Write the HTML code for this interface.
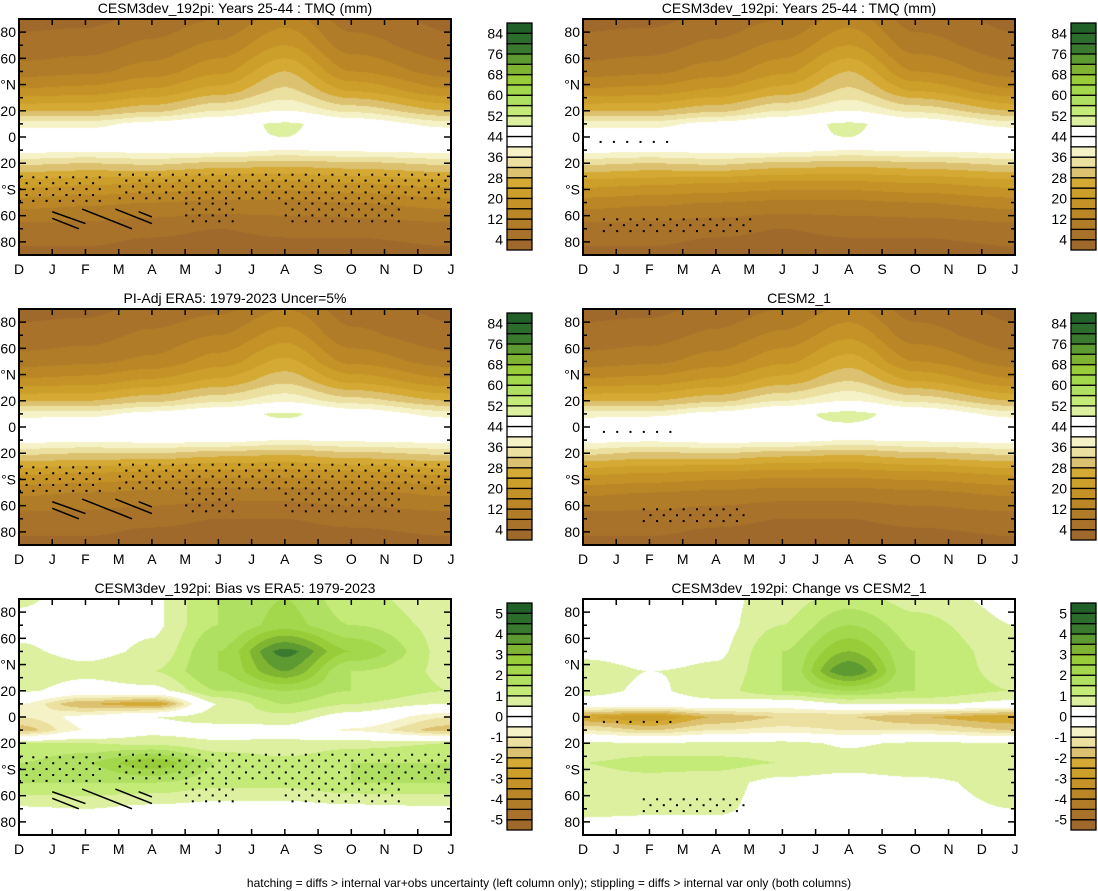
<!DOCTYPE html>
<html><head><meta charset="utf-8">
<style>
html,body{margin:0;padding:0;background:#fff;}
#wrap{position:relative;width:1098px;height:891px;overflow:hidden;font-family:"Liberation Sans",sans-serif;}
canvas{position:absolute;}
svg{position:absolute;left:0;top:0;}
</style></head>
<body>
<div id="wrap">
<svg id="ov" width="1098" height="891"></svg>
</div>
<script>
// ---- data ----
const monthLabels = ['D','J','F','M','A','M','J','J','A','S','O','N','D','J'];
const gridMonths = [0,2,4,6,8,10,13];
const gridLats = [90,70,50,35,20,10,0,-10,-20,-35,-50,-70,-90];
const tmqLevelsLabels = [84,76,68,60,52,44,36,28,20,12,4];
const diffLevelsLabels = [5,4,3,2,1,0,-1,-2,-3,-4,-5];
const tmqModel = [
 [3,3,5,8,14,6,3],[5,6,9,13,20,10,5],[10,11,14,19,28,16,10],[17,18,21,26,33,24,17],
 [28,28,31,36,40,35,28],[38,38,42,45,49,44,38],[45,44,46,47,48,45,45],[42,41,42,42,40,41,42],
 [33,32,33,31,30,31,33],[22,21,20,19,19,20,22],[14,13,12,11,11,12,14],[6,6,5,4,5,5,6],[3,3,2,2,2,2,3]];
const tmqCesm2 = [
 [3,3,5,8,13,6,3],[5,6,9,13,19,10,5],[10,11,14,19,26,16,10],[17,18,21,26,32,24,17],
 [28,28,31,36,40,35,28],[38,38,42,46,50,45,38],[45,48,48,47,47,45,45],[42,41,42,42,40,41,42],
 [33,31,32,30,29,31,33],[21,20,19,18,18,19,21],[13,12,11,10,10,11,13],[6,6,5,4,4,5,6],[3,3,2,2,2,2,3]];
const tmqEra5 = [
 [3,3,5,7,12,6,3],[5,6,9,12,18,9,5],[10,11,13,18,25,15,10],[17,18,21,25,31,23,17],
 [28,28,31,35,39,34,28],[38,38,42,45,49,44,38],[45,46,47,46,46,45,45],[42,41,42,42,40,41,42],
 [33,32,32,30,29,31,33],[21,20,19,18,18,19,21],[13,12,11,10,10,11,13],[6,6,5,4,4,5,6],[3,3,2,2,2,2,3]];
const biasVals = [
 [0.6,0.2,0.4,1.5,2,1.2,0.6],[0.3,0.2,0.4,1.5,2.2,1.5,0.8],[0.6,0.3,0.6,2,4.2,2.5,0.8],[0.9,0.7,1,2,3.5,1.5,0.9],
 [0.6,0.2,0.3,1.5,2,1.5,1],[-0.5,-2,-2.5,0.5,1.5,1,0.5],[-1,-0.3,0.5,0.8,0.8,0.2,-1],[-1.8,-0.5,0.3,0.2,0.3,-0.6,-1.8],
 [1,1,0.8,0.6,0.6,0.8,1],[1.5,2,3,1.5,1.2,1.5,1.5],[1.5,1.5,1.5,1.2,1.2,1.5,1.5],[0.4,0.5,0.3,0.2,0.2,0.3,0.4],[0,0,0,0,0,0,0]];
const changeVals = [
 [0.2,0.2,0.3,0.8,1.2,0.8,0.3],[0.2,0.2,0.3,1.0,2,1.2,0.5],[0.3,0.2,0.4,1.5,3,1.5,0.7],[0.8,0.5,0.6,1.5,4,1.5,0.8],
 [0.7,0.4,0.8,1.5,2,1.5,1],[0.2,0.2,0.3,0,0.5,0.6,0.3],[-2.5,-3,-2,-1.5,-1.5,-2,-2.5],[-1,-1.5,-1,-0.8,-1,-1,-1.5],
 [0.6,0.6,0.6,0.7,0.4,0.6,0.6],[1,1.2,1.2,1,0.8,1,1],[0.8,0.8,0.7,0.3,0.2,0.3,0.8],[0.6,0.6,0.6,0.2,0.2,0.2,0.5],[0.3,0.2,0.2,0.1,0.1,0.1,0.2]];
// stipple regions [m0,m1,lat0,lat1]
const stipA = [[0,2.5,-30,-50],[3,13,-28,-50],[5,6.5,-50,-66],[8,11.5,-50,-66],[7,9.5,45,55],[9,10.5,50,70],[8.5,10.2,80,88]];
const stipB = [[0.5,2.5,-3,-5]];
const stipC = [[0.6,5,-62,-72]];
const stipD = [[0.6,2.8,-3,-5],[1.8,5,-62,-72]];
const hatchSegs = [[1,-57,2,-66],[1,-62,1.8,-70],[1.9,-55,3.4,-70],[2.9,-55,4.0,-66],[3.6,-57,4.0,-61]];

const palette = ['#a0692c','#a8722a','#b07c28','#ba8626','#c49226','#cc9e2a','#d4aa34','#dcc270','#ece0a0','#f6f2c8','#ffffff','#ffffff','#dcf0a0','#c4ea78','#b0e062','#a4d84c','#98cc38','#7eb432','#5e9a32','#3a7a2e','#2c6c2c','#22602a'];

const panels = [
 {name:'model-tmq',title:'CESM3dev_192pi: Years 25-44 : TMQ (mm)',x:19,y:19,data:tmqModel,lo:0,step:4,labels:tmqLevelsLabels,stip:stipA,hatch:true},
 {name:'model-tmq-right',title:'CESM3dev_192pi: Years 25-44 : TMQ (mm)',x:583,y:19,data:tmqModel,lo:0,step:4,labels:tmqLevelsLabels,stip:stipB.concat(stipC),hatch:false},
 {name:'era5-tmq',title:'PI-Adj ERA5: 1979-2023 Uncer=5%',x:19,y:309,data:tmqEra5,lo:0,step:4,labels:tmqLevelsLabels,stip:stipA,hatch:true},
 {name:'cesm2-tmq',title:'CESM2_1',x:583,y:309,data:tmqCesm2,lo:0,step:4,labels:tmqLevelsLabels,stip:stipD,hatch:false},
 {name:'bias-era5',title:'CESM3dev_192pi: Bias vs ERA5: 1979-2023',x:19,y:599,data:biasVals,lo:-5.5,step:0.5,labels:diffLevelsLabels,stip:stipA,hatch:true},
 {name:'change-cesm2',title:'CESM3dev_192pi: Change vs CESM2_1',x:583,y:599,data:changeVals,lo:-5.5,step:0.5,labels:diffLevelsLabels,stip:stipD,hatch:false}
];
const W=432,H=236;
const NS='http://www.w3.org/2000/svg';
const ov=document.getElementById('ov');
const wrap=document.getElementById('wrap');
function xs(p,m){return p.x+m/13*W;}
function ys(p,lat){return p.y+(90-lat)/180*H;}
function el(tag,attrs,parent){const e=document.createElementNS(NS,tag);for(const k in attrs)e.setAttribute(k,attrs[k]);(parent||ov).appendChild(e);return e;}
function cub(t){return t*t*(3-2*t);}
function sample(data,m,lat){
  let j=0;while(j<gridMonths.length-2&&m>gridMonths[j+1])j++;
  let tm=(m-gridMonths[j])/(gridMonths[j+1]-gridMonths[j]);tm=cub(Math.max(0,Math.min(1,tm)));
  let i=0;while(i<gridLats.length-2&&lat<gridLats[i+1])i++;
  let tl=(gridLats[i]-lat)/(gridLats[i]-gridLats[i+1]);tl=Math.max(0,Math.min(1,tl));
  const a=data[i][j],b=data[i][j+1],c=data[i+1][j],d=data[i+1][j+1];
  return (a*(1-tm)+b*tm)*(1-tl)+(c*(1-tm)+d*tm)*tl;
}
const rgb=palette.map(h=>[parseInt(h.slice(1,3),16),parseInt(h.slice(3,5),16),parseInt(h.slice(5,7),16)]);
panels.forEach((p,pi)=>{
  const cv=document.createElement('canvas');
  cv.width=W;cv.height=H;cv.style.left=p.x+'px';cv.style.top=p.y+'px';
  
  
  wrap.insertBefore(cv,ov);
  const ctx=cv.getContext('2d');const img=ctx.createImageData(W,H);
  for(let py=0;py<H;py++){const lat=90-(py+0.5)/H*180;
    for(let px=0;px<W;px++){const m=(px+0.5)/W*13;
      const v=sample(p.data,m,lat);
      let k=Math.floor((v-p.lo)/p.step);k=Math.max(0,Math.min(21,k));
      const o=(py*W+px)*4;img.data[o]=rgb[k][0];img.data[o+1]=rgb[k][1];img.data[o+2]=rgb[k][2];img.data[o+3]=255;}}
  ctx.putImageData(img,0,0);
  const g=el('g',{});
  
  
  p.stip.forEach(r=>{
    for(let lat=r[2];lat>=r[3];lat-=4.5){
      const off=(Math.round((r[2]-lat)/4.5)%2)*0.2;
      for(let m=r[0]+off;m<=r[1];m+=0.4){
        el('rect',{x:xs(p,m).toFixed(1),y:ys(p,lat).toFixed(1),width:2,height:2,fill:'#000'},g);}}
  });
  if(p.hatch){hatchSegs.forEach(s=>{
    el('line',{x1:xs(p,s[0]),y1:ys(p,s[1]),x2:xs(p,s[2]),y2:ys(p,s[3]),stroke:'#000','stroke-width':1.5},g);
  });}
  el('rect',{x:p.x,y:p.y,width:W,height:H,fill:'none',stroke:'#000','stroke-width':2},g);
  const ylab=['80','60','°N','20','0','20','°S','60','80'];
  for(let lat=-90;lat<=90;lat+=10){
    const y=ys(p,lat);const major=(lat%20===0)&&Math.abs(lat)<90;const len=major?7:4;
    el('line',{x1:p.x,y1:y,x2:p.x+len,y2:y,stroke:'#000','stroke-width':1.5},g);
    el('line',{x1:p.x+W,y1:y,x2:p.x+W-len,y2:y,stroke:'#000','stroke-width':1.5},g);
  }
  [80,60,40,20,0,-20,-40,-60,-80].forEach((lat,i)=>{
    const t=el('text',{x:p.x-3,y:ys(p,lat)+5,'text-anchor':'end','font-size':14,fill:'#000'},g);t.textContent=ylab[i];
    
    
  });
  monthLabels.forEach((ml,i)=>{
    const x=xs(p,i);
    el('line',{x1:x,y1:p.y+H,x2:x,y2:p.y+H-6,stroke:'#000','stroke-width':1.5},g);
    el('line',{x1:x,y1:p.y,x2:x,y2:p.y+6,stroke:'#000','stroke-width':1.5},g);
    const t=el('text',{x:x,y:p.y+H+19,'text-anchor':'middle','font-size':14,fill:'#000'},g);t.textContent=ml;
    
    
  });
  const tt=el('text',{x:p.x+W/2,y:p.y-6,'text-anchor':'middle','font-size':14,fill:'#000'},g);tt.textContent=p.title;
  
  
  const cbx=p.x<300?507:1071, cby=p.y+4, cbh=227, bh=cbh/22;
  const cb=el('g',{},g);
  
  
  for(let k=0;k<22;k++){
    el('rect',{x:cbx,y:cby+(21-k)*bh,width:25,height:bh,fill:palette[k],stroke:'#000','stroke-width':1.3},cb);}
  p.labels.forEach((lv,i)=>{
    const t=el('text',{x:cbx-4,y:cby+(1+2*i)*bh+5,'text-anchor':'end','font-size':14,fill:'#000'},cb);t.textContent=String(lv);
    
    
  });
});
const ft=el('text',{x:549,y:887,'text-anchor':'middle','font-size':12,fill:'#000'});
ft.textContent='hatching = diffs > internal var+obs uncertainty (left column only); stippling = diffs > internal var only (both columns)';


</script>
</body></html>
